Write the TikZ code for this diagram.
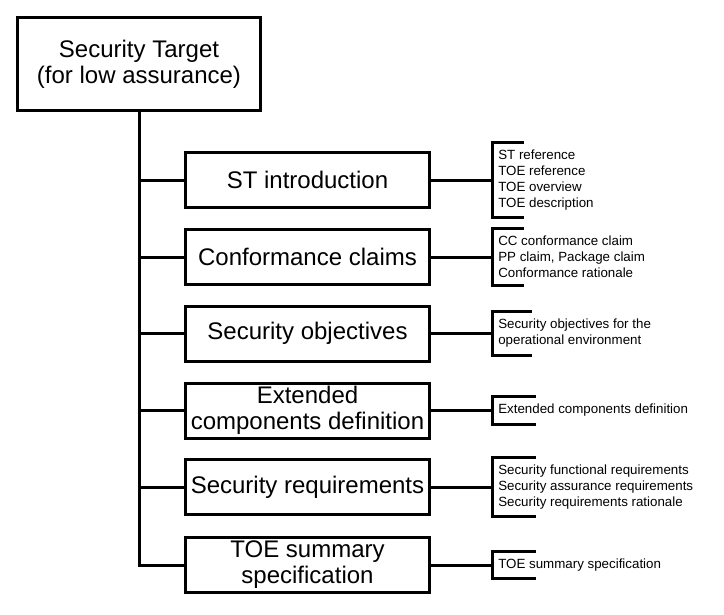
\documentclass[tikz,border=0pt]{standalone}
\usepackage{fontspec}
\setmainfont{Liberation Sans}
\usetikzlibrary{positioning}

\begin{document}
\begin{tikzpicture}[x=0.75pt, y=-0.75pt,
    part/.style={draw, line width=2.25pt, minimum width=183pt, minimum height=41.25pt,
      align=center, inner sep=1pt, font=\fontsize{18}{19.5}\selectfont},
    note/.style={anchor=west, align=left, inner xsep=4.5pt, inner ysep=5.5pt,
      font=\fontsize{10}{12}\selectfont},
    link/.style={line width=2.25pt},
    bracket/.style={line width=2.25pt, line cap=rect}]

  % Canvas
  \useasboundingbox (0, 0) rectangle (724, 614);
  \def\bx{307.5}
  \def\nx{492}

  % Root box
  \node[part, minimum width=182.25pt, minimum height=69.75pt] (root) at (139, 64)
    {Security Target\\(for low assurance)};

  % Parts of the ST
  \node[part] (intro) at (\bx, 180) {ST introduction};
  \node[part] (claims) at (\bx, 257) {Conformance claims};
  \node[part] (obj) at (\bx, 333.5) {Security objectives};
  \node[part] (ext) at (\bx, 410.5) {Extended\\components definition};
  \node[part] (req) at (\bx, 487) {Security requirements};
  \node[part] (tss) at (\bx, 565) {TOE summary\\specification};

  % Contents of each part
  \node[note] (n1) at (\nx, 180) {ST reference\\TOE reference\\TOE overview\\TOE description};
  \node[note] (n2) at (\nx, 257) {CC conformance claim\\PP claim, Package claim\\Conformance rationale};
  \node[note] (n3) at (\nx, 333.5) {Security objectives for the\\operational environment};
  \node[note] (n4) at (\nx, 410.5) {Extended components definition};
  \node[note] (n5) at (\nx, 487) {Security functional requirements\\Security assurance requirements\\Security requirements rationale};
  \node[note] (n6) at (\nx, 565) {TOE summary specification};

  % Trunk and branches
  \draw[link] (root.south) |- (tss.west);
  \foreach \p in {intro, claims, obj, ext, req}
    \draw[link] (root.south |- \p.west) -- (\p.west);

  % Links to the contents
  \draw[link] (intro.east) -- (n1.west);
  \draw[link] (claims.east) -- (n2.west);
  \draw[link] (obj.east) -- (n3.west);
  \draw[link] (ext.east) -- (n4.west);
  \draw[link] (req.east) -- (n5.west);
  \draw[link] (tss.east) -- (n6.west);

  % Brackets round the contents
  \foreach \n/\arm in {n1/23pt, n2/23pt, n3/28.5pt, n4/32pt, n5/32pt, n6/32pt}
    \draw[bracket] ([xshift=\arm]\n.north west) -- (\n.north west)
      -- (\n.south west) -- ([xshift=\arm]\n.south west);

\end{tikzpicture}
\end{document}
